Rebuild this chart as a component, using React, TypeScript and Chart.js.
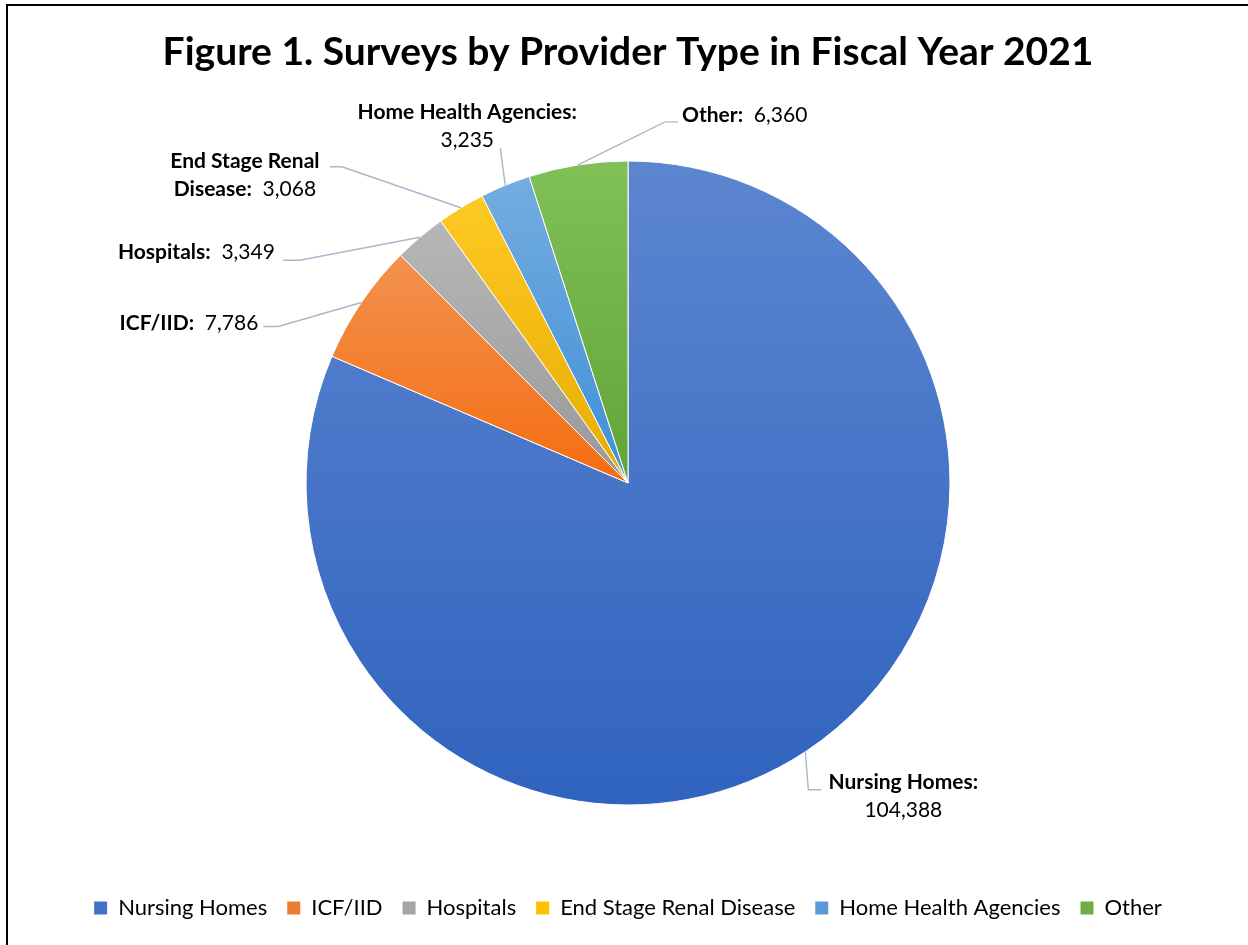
import React, { useEffect, useRef } from 'react';
import { Chart, registerables } from 'chart.js';

Chart.register(...registerables);

const TITLE = 'Figure 1. Surveys by Provider Type in Fiscal Year 2021';
const categories = ['Nursing Homes', 'ICF/IID', 'Hospitals', 'End Stage Renal Disease', 'Home Health Agencies', 'Other'];
const surveyCounts = [104388, 7786, 3349, 3068, 3235, 6360];
const sliceColors = ['#4472C4', '#ED7D31', '#A5A5A5', '#FFC000', '#5B9BD5', '#70AD47'];
const calloutNames = [['Nursing Homes:'], ['ICF/IID:'], ['Hospitals:'], ['End Stage Renal', 'Disease:'], ['Home Health Agencies:'], ['Other:']];
const valueOnNewLine = [true, false, false, false, true, false];

const FONT = 'Lato, "Open Sans", sans-serif';
const LABEL_SIZE = 21;
const PIE_RADIUS = 322;
const LEADER_COLOR = '#A9B7CB';
const LINE_HEIGHT = 28;

// callout placement relative to each slice's outer mid-point
const calloutLayout = [
  { elbow: [3, 38], tail: 13, text: [98, 30], align: 'center' },
  { elbow: [-83, 24], tail: -15, text: [-103, 21], align: 'right' },
  { elbow: [-120, 23], tail: -17, text: [-145, 15], align: 'right' },
  { elbow: [-119, -41], tail: -12, text: [-216, -46], align: 'center' },
  { elbow: [-5, -37], tail: 0, text: [-38, -73], align: 'center' },
  { elbow: [87, -43], tail: 13, text: [104, -50], align: 'left' },
];

function toHsl(hex: string) {
  const n = parseInt(hex.slice(1), 16);
  const r = ((n >> 16) & 255) / 255, g = ((n >> 8) & 255) / 255, b = (n & 255) / 255;
  const max = Math.max(r, g, b), min = Math.min(r, g, b);
  const l = (max + min) / 2;
  let h = 0, s = 0;
  if (max !== min) {
    const d = max - min;
    s = l > 0.5 ? d / (2 - max - min) : d / (max + min);
    if (max === r) h = (g - b) / d + (g < b ? 6 : 0);
    else if (max === g) h = (b - r) / d + 2;
    else h = (r - g) / d + 4;
    h *= 60;
  }
  return [h, s * 100, l * 100];
}

function shade(hex: string, ds: number, dl: number) {
  const [h, s, l] = toHsl(hex);
  const s2 = s === 0 ? 0 : Math.min(100, Math.max(0, s + ds));
  return `hsl(${h.toFixed(1)}, ${s2.toFixed(1)}%, ${Math.min(100, Math.max(0, l + dl)).toFixed(1)}%)`;
}

function sliceGradient(context: any) {
  const i = context.dataIndex;
  const base = sliceColors[i];
  const chart = context.chart;
  const area = chart.chartArea;
  if (!area || context.type !== 'data') return base;
  const total = surveyCounts.reduce((a, b) => a + b, 0);
  let cum = 0;
  for (let k = 0; k < i; k++) cum += surveyCounts[k];
  const a0 = -Math.PI / 2 + (2 * Math.PI * cum) / total;
  const a1 = a0 + (2 * Math.PI * surveyCounts[i]) / total;
  const cy = (area.top + area.bottom) / 2;
  const ys = [cy, cy + PIE_RADIUS * Math.sin(a0), cy + PIE_RADIUS * Math.sin(a1)];
  const contains = (t: number) => {
    for (let k = -2; k <= 2; k++) {
      const v = t + 2 * Math.PI * k;
      if (v >= a0 && v <= a1) return true;
    }
    return false;
  };
  if (contains(-Math.PI / 2)) ys.push(cy - PIE_RADIUS);
  if (contains(Math.PI / 2)) ys.push(cy + PIE_RADIUS);
  const ymin = Math.min(...ys), ymax = Math.max(...ys);
  const g = chart.ctx.createLinearGradient(0, ymin, 0, ymax);
  g.addColorStop(0, shade(base, 3, 7));
  g.addColorStop(1, shade(base, 8, -5));
  return g;
}

function buildCalloutLines(i: number) {
  const value = surveyCounts[i].toLocaleString('en-US');
  const lines = calloutNames[i].map((n) => [{ text: n, bold: true }]);
  if (valueOnNewLine[i]) lines.push([{ text: value, bold: false }]);
  else lines[lines.length - 1].push({ text: '  ' + value, bold: false });
  return lines;
}

const calloutPlugin = {
  id: 'callouts',
  afterDatasetsDraw(chart: any) {
    const { ctx } = chart;
    const meta = chart.getDatasetMeta(0);
    ctx.save();
    meta.data.forEach((arc: any, i: number) => {
      const { x, y, startAngle, endAngle, outerRadius } = arc.getProps(['x', 'y', 'startAngle', 'endAngle', 'outerRadius'], true);
      const mid = (startAngle + endAngle) / 2;
      const ax = x + Math.cos(mid) * outerRadius;
      const ay = y + Math.sin(mid) * outerRadius;
      const L = calloutLayout[i];
      const ex = ax + L.elbow[0], ey = ay + L.elbow[1];
      ctx.strokeStyle = LEADER_COLOR;
      ctx.lineWidth = 1.4;
      ctx.beginPath();
      ctx.moveTo(ax, ay);
      ctx.lineTo(ex, ey);
      if (L.tail) ctx.lineTo(ex + L.tail, ey);
      ctx.stroke();

      const tx = ax + L.text[0];
      const ty = ay + L.text[1];
      const lines = buildCalloutLines(i);
      ctx.fillStyle = '#000';
      ctx.textBaseline = 'middle';
      ctx.textAlign = 'left';
      lines.forEach((segs, li) => {
        let w = 0;
        segs.forEach((s) => {
          ctx.font = `${s.bold ? 'bold ' : ''}${LABEL_SIZE}px ${FONT}`;
          w += ctx.measureText(s.text).width;
        });
        let sx = L.align === 'left' ? tx : L.align === 'right' ? tx - w : tx - w / 2;
        const sy = ty + li * LINE_HEIGHT;
        segs.forEach((s) => {
          ctx.font = `${s.bold ? 'bold ' : ''}${LABEL_SIZE}px ${FONT}`;
          ctx.fillText(s.text, sx, sy);
          sx += ctx.measureText(s.text).width;
        });
      });
    });
    ctx.restore();
  },
};

export default function App() {
  const ref = useRef<HTMLCanvasElement>(null);
  useEffect(() => {
    if (!ref.current) return;
    const chart = new Chart(ref.current, {
      type: 'pie',
      data: {
        labels: categories,
        datasets: [
          {
            data: surveyCounts,
            backgroundColor: sliceGradient as any,
            borderColor: '#ffffff',
            borderWidth: 1,
          },
        ],
      },
      options: {
        responsive: false,
        animation: false,
        radius: PIE_RADIUS,
        layout: { padding: { left: 8, right: 0, top: 10, bottom: 16 } },
        plugins: {
          title: {
            display: true,
            text: TITLE,
            color: '#000',
            font: { family: FONT, size: 39, weight: 'bold', lineHeight: 1.2 },
            padding: { top: 18.6, bottom: 13.6 },
          },
          legend: {
            position: 'bottom',
            labels: {
              boxWidth: 13,
              boxHeight: 13,
              padding: 20,
              color: '#1a1a1a',
              font: { family: FONT, size: 22 },
              generateLabels: () =>
                categories.map((c, i) => ({
                  text: c,
                  fillStyle: sliceColors[i],
                  strokeStyle: sliceColors[i],
                  lineWidth: 0,
                  hidden: false,
                  index: i,
                })),
            },
          },
          tooltip: { enabled: false },
        },
      } as any,
      plugins: [calloutPlugin],
    });
    return () => chart.destroy();
  }, []);
  return (
    <div style={{ position: 'fixed', left: 0, top: 0, width: 1248, height: 945, background: '#fff', overflow: 'hidden' }}>
      <canvas ref={ref} width={1248} height={945} style={{ position: 'absolute', left: 0, top: 0 }} />
      <div style={{ position: 'absolute', left: 6, top: 4, width: 2, height: 941, background: '#000' }} />
      <div style={{ position: 'absolute', left: 6, top: 4, width: 1242, height: 2, background: '#000' }} />
    </div>
  );
}
